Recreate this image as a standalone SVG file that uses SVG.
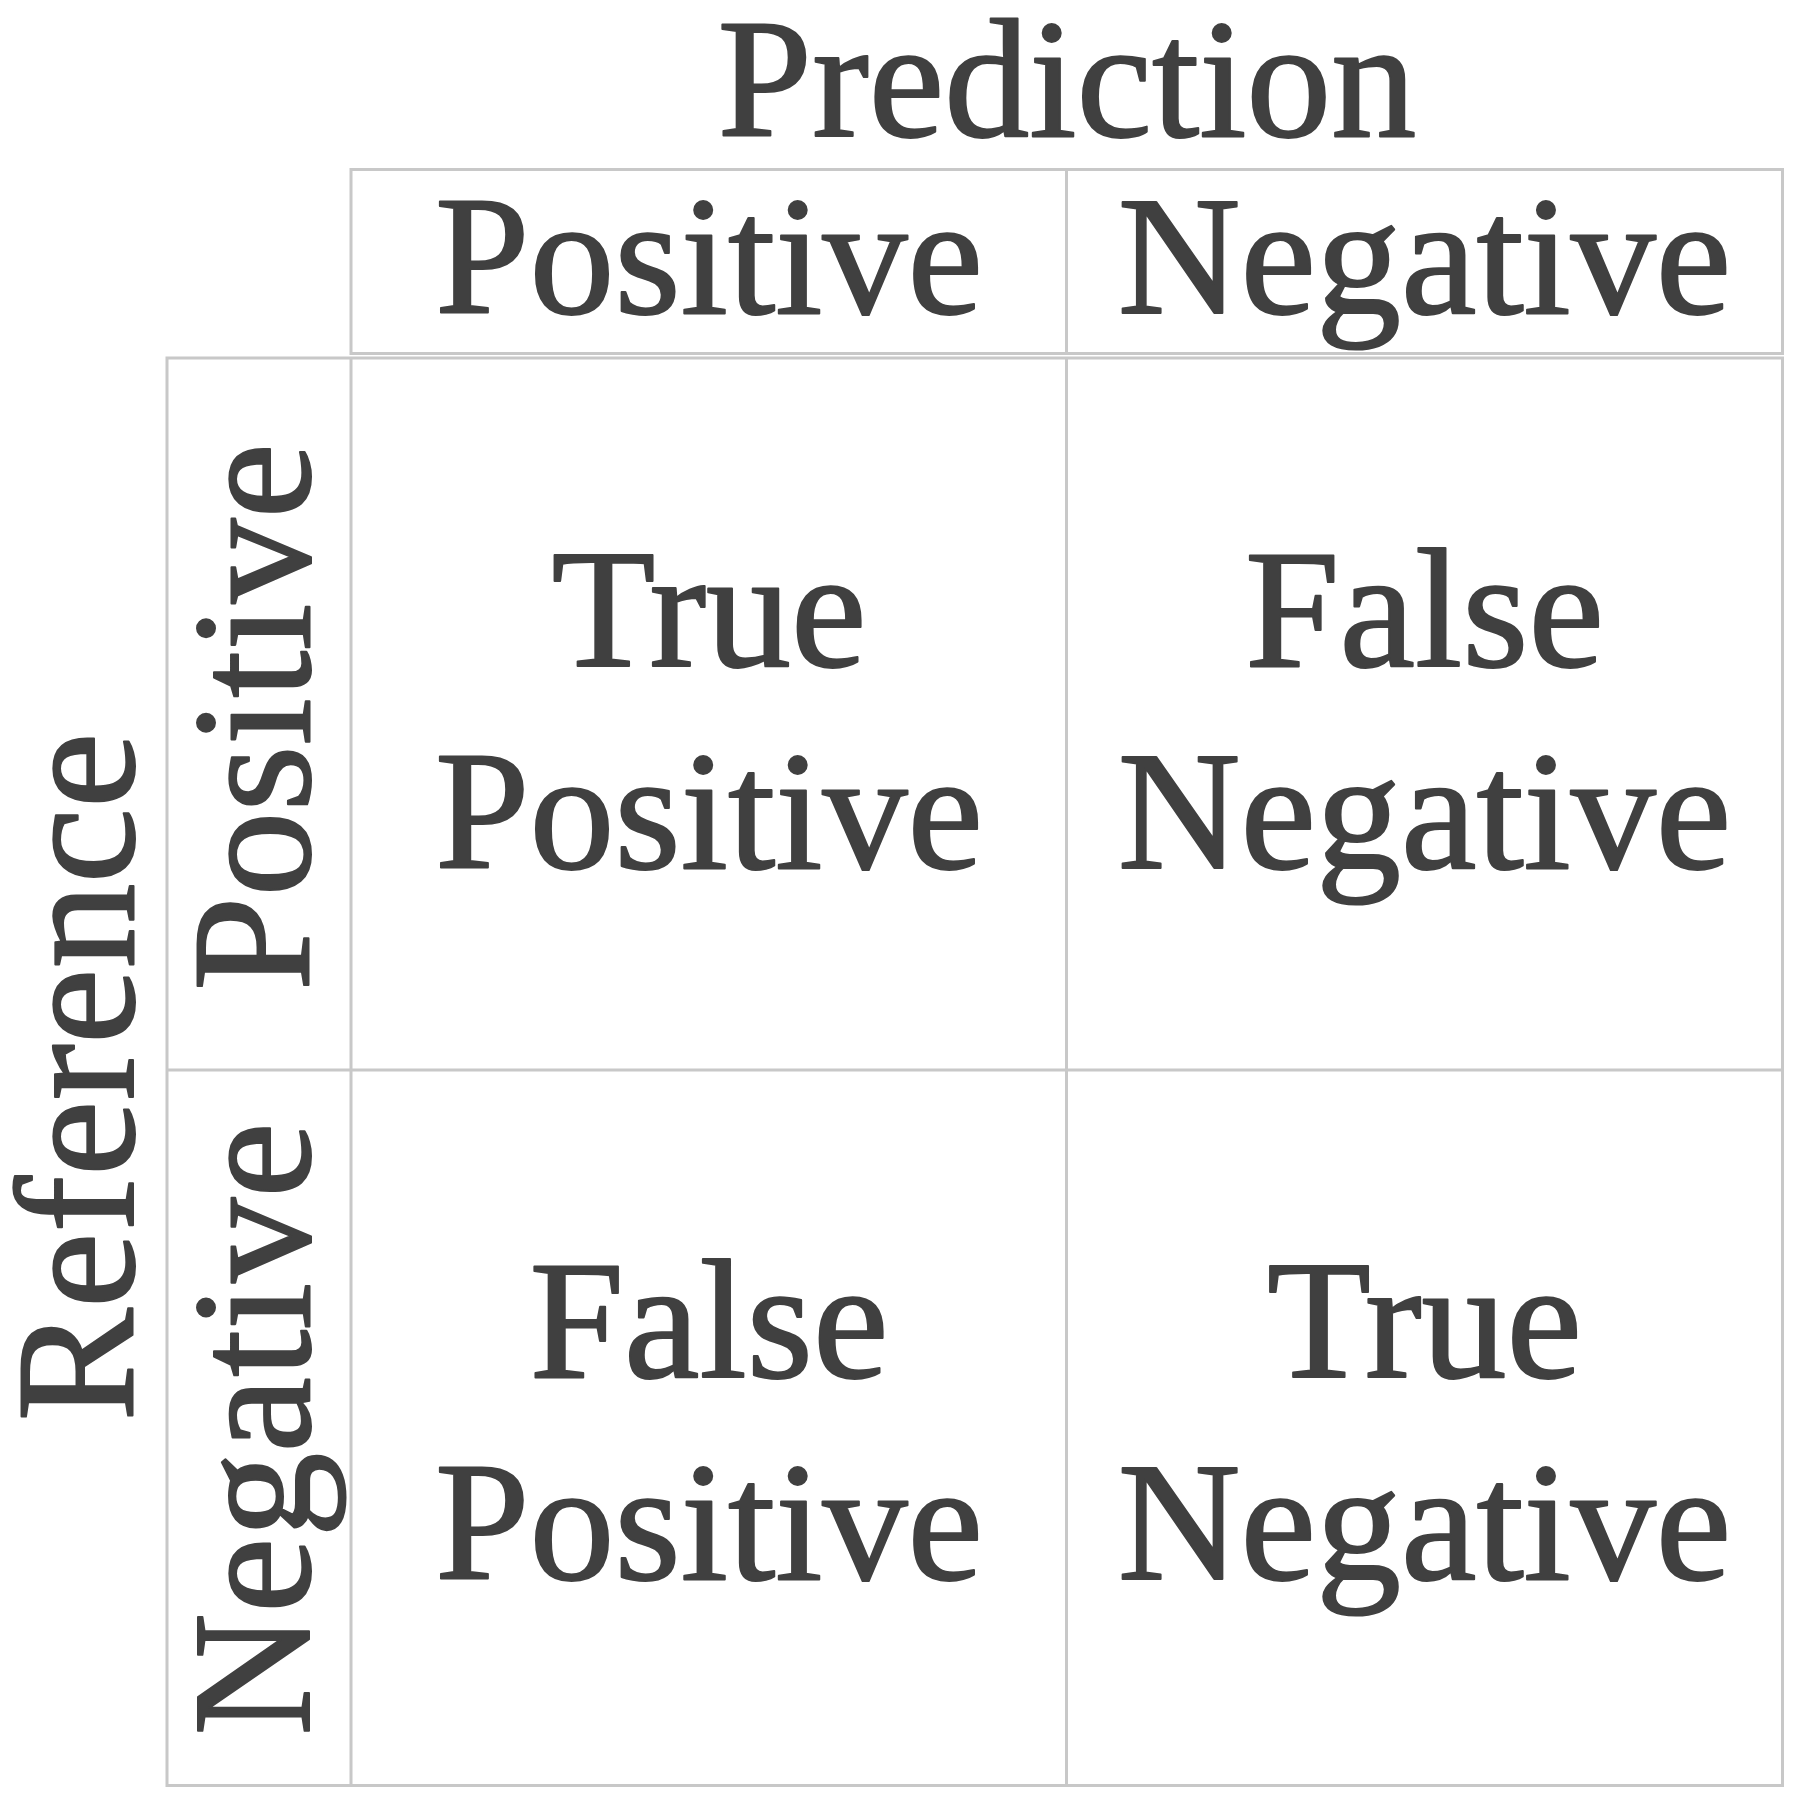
<svg xmlns="http://www.w3.org/2000/svg" width="1801" height="1804" viewBox="0 0 1801 1804">
<style>
.t{font-family:"Liberation Serif","Times New Roman",serif;font-size:170px;fill:#404040;stroke:#404040;stroke-width:2;stroke-linejoin:round;text-anchor:middle}
.g{fill:none;stroke:#c8c8c8;stroke-width:3}
</style>
<rect width="1801" height="1804" fill="#ffffff"/>
<g id="grid" class="g">
<rect x="351" y="169.5" width="1431.5" height="184"/>
<line x1="1066.5" y1="169.5" x2="1066.5" y2="353.5"/>
<rect x="167" y="358" width="1615.5" height="1427.5"/>
<line x1="351" y1="358" x2="351" y2="1785.5"/>
<line x1="1066.5" y1="358" x2="1066.5" y2="1785.5"/>
<line x1="167" y1="1070" x2="1782.5" y2="1070"/>
</g>
<g id="title-prediction"><text class="t" x="1067" y="136">Prediction</text></g>
<g id="header-positive"><text class="t" x="709" y="313">Positive</text></g>
<g id="header-negative"><text class="t" x="1424.5" y="313">Negative</text></g>
<g id="title-reference"><text class="t" transform="translate(133,1077) rotate(-90)">Reference</text></g>
<g id="row-positive"><text class="t" transform="translate(309,717) rotate(-90)">Positive</text></g>
<g id="row-negative"><text class="t" transform="translate(309,1429) rotate(-90)">Negative</text></g>
<g id="cell-tp"><text class="t" x="709" y="666">True</text><text class="t" x="709" y="868">Positive</text></g>
<g id="cell-fn"><text class="t" x="1424.5" y="666">False</text><text class="t" x="1424.5" y="868">Negative</text></g>
<g id="cell-fp"><text class="t" x="709" y="1377">False</text><text class="t" x="709" y="1579">Positive</text></g>
<g id="cell-tn"><text class="t" x="1424.5" y="1377">True</text><text class="t" x="1424.5" y="1579">Negative</text></g>
</svg>
